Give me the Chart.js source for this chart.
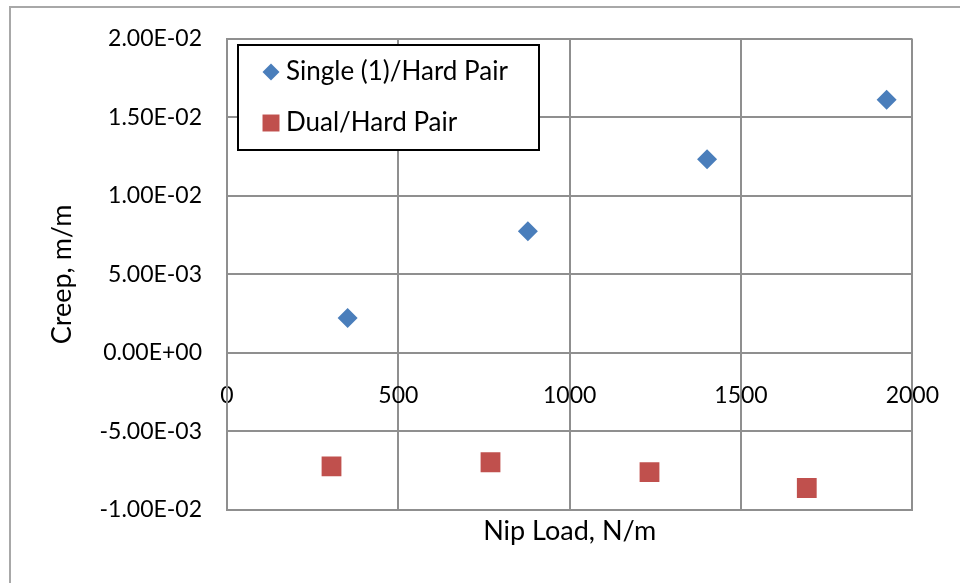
<!DOCTYPE html>
<html>
<head>
<meta charset="utf-8">
<script src="https://cdn.jsdelivr.net/npm/chart.js@4"></script>
<style>
html, body { margin:0; padding:0; background:#fff; }
#wrap { position:relative; width:960px; height:583px; overflow:hidden; }
#frame { position:absolute; left:9px; top:6px; width:1000px; height:700px; border-left:2px solid #a8a8a8; border-top:2px solid #a8a8a8; }
canvas { position:absolute; left:0; top:0; }
</style>
</head>
<body>
<div id="wrap">
<div id="frame"></div>
<canvas id="chart" width="960" height="583"></canvas>
</div>
<script>
// ===========================================
// DATA
// ===========================================

const singleLoad = [352, 878, 1401, 1925];
const singleCreep = [0.00223, 0.00775, 0.01233, 0.01612];

const dualLoad = [305, 769, 1233, 1692];
const dualCreep = [-0.00722, -0.00696, -0.00759, -0.0086];

const seriesNames = ["Single (1)/Hard Pair", "Dual/Hard Pair"];

const xTicks = [0, 500, 1000, 1500, 2000];
const yTicks = [-0.01, -0.005, 0, 0.005, 0.01, 0.015, 0.02];

const FONT = "Lato, 'Liberation Sans', sans-serif";
const GRID = "#8f8f8f";

// Excel style "2.00E-02"
function sci(v){
    if(Math.abs(v) < 1e-12) return "0.00E+00";
    const parts = v.toExponential(2).split("e");
    const n = parseInt(parts[1]);
    return parts[0] + "E" + (n < 0 ? "-" : "+") + String(Math.abs(n)).padStart(2,"0");
}

// ===========================================
// LEGEND (boxed, inside plot)
// ===========================================

const boxLegend = {
    id:"boxLegend",
    afterDraw(chart){
        const ctx = chart.ctx;
        const ds = chart.data.datasets;
        const box = {x:238, y:45, w:301, h:105};
        ctx.save();
        ctx.fillStyle = "#fff";
        ctx.fillRect(box.x, box.y, box.w, box.h);
        ctx.strokeStyle = "#000";
        ctx.lineWidth = 2;
        ctx.strokeRect(box.x, box.y, box.w, box.h);
        ctx.font = "26px " + FONT;
        ctx.textBaseline = "middle";
        ds.forEach((d, i) => {
            const cy = box.y + 27 + i * 51;
            ctx.fillStyle = d.backgroundColor;
            ctx.strokeStyle = d.backgroundColor;
            Chart.helpers.drawPoint(ctx, {
                pointStyle:d.pointStyle,
                radius:d.pointStyle === "rect" ? 12 : 8.5,
                borderWidth:0
            }, box.x + 33, cy);
            ctx.fillStyle = "#000";
            ctx.fillText(d.label, box.x + 48, cy);
        });
        ctx.restore();
    }
};

// ===========================================
// CHART
// ===========================================

new Chart(document.getElementById("chart"), {

type:"scatter",

data:{
    datasets:[{
        label:seriesNames[0],
        data:singleLoad.map((x, i) => ({x:x, y:singleCreep[i]})),
        pointStyle:"rectRot",
        pointRadius:10,
        borderWidth:0,
        backgroundColor:"#4a7ebb",
        borderColor:"#4a7ebb"
    },{
        label:seriesNames[1],
        data:dualLoad.map((x, i) => ({x:x, y:dualCreep[i]})),
        pointStyle:"rect",
        pointRadius:14,
        borderWidth:0,
        backgroundColor:"#c0504d",
        borderColor:"#c0504d"
    }]
},

options:{
    responsive:false,
    animation:false,
    layout:{ padding:{ left:0, right:35, top:35, bottom:0 } },
    plugins:{
        legend:{ display:false },
        tooltip:{ enabled:false }
    },
    scales:{
        x:{
            type:"linear",
            position:"bottom",
            min:xTicks[0],
            max:xTicks[xTicks.length - 1],
            afterBuildTicks:(s) => { s.ticks = xTicks.map(v => ({value:v})); },
            ticks:{ display:false },
            grid:{ color:GRID, lineWidth:2, drawTicks:false },
            border:{ color:GRID, width:2 },
            title:{
                display:true,
                text:"Nip Load, N/m",
                color:"#000",
                font:{ family:FONT, size:27 },
                padding:{ top:0, bottom:36 }
            },
            afterFit:(s) => { s.height = 73; }
        },
        x2:{
            type:"linear",
            position:{ y:0 },
            min:xTicks[0],
            max:xTicks[xTicks.length - 1],
            afterBuildTicks:(s) => { s.ticks = xTicks.map(v => ({value:v})); },
            ticks:{ color:"#000", font:{ family:FONT, size:23 }, padding:21, maxRotation:0, callback:(v) => String(v) },
            grid:{ display:false },
            border:{ display:false },
            afterFit:(s) => { s.height = 0; }
        },
        y:{
            type:"linear",
            min:yTicks[0],
            max:yTicks[yTicks.length - 1],
            afterBuildTicks:(s) => { s.ticks = yTicks.map(v => ({value:v})); },
            ticks:{
                color:"#000",
                font:{ family:FONT, size:23 },
                padding:25,
                callback:(v) => sci(v)
            },
            grid:{ color:GRID, lineWidth:2, drawTicks:false },
            border:{ color:GRID, width:2 },
            title:{
                display:true,
                text:"Creep, m/m",
                color:"#000",
                font:{ family:FONT, size:27 },
                padding:{ top:46, bottom:0 }
            },
            afterFit:(s) => { s.width = 227; }
        }
    }
},

plugins:[boxLegend]

});
</script>
</body>
</html>
